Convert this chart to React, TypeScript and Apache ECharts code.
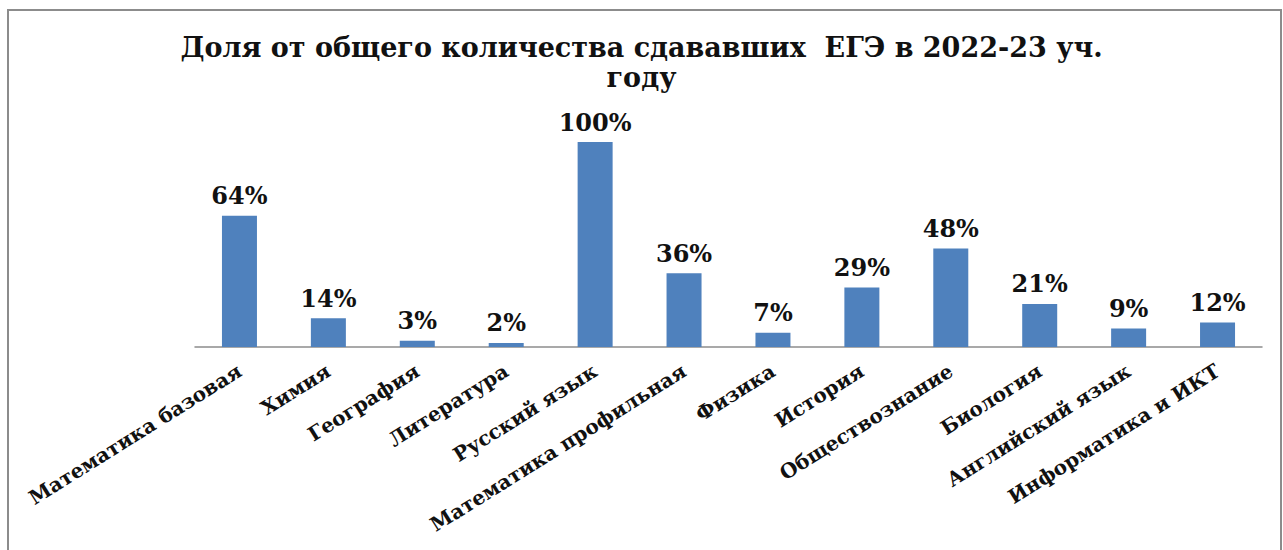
import React, { useEffect, useRef } from "react";
import * as echarts from "echarts";

const categories = [
  "Математика базовая",
  "Химия",
  "География",
  "Литература",
  "Русский язык",
  "Математика профильная",
  "Физика",
  "История",
  "Обществознание",
  "Биология",
  "Английский язык",
  "Информатика и ИКТ",
];
const shares = [64, 14, 3, 2, 100, 36, 7, 29, 48, 21, 9, 12];
const titleText = "Доля от общего количества сдававших  ЕГЭ в 2022-23 уч.\nгоду";

export default function App() {
  const ref = useRef<HTMLDivElement>(null);
  useEffect(() => {
    if (!ref.current) return;
    const chart = echarts.init(ref.current, null, { renderer: "svg" });
    const font = "'DejaVu Serif', 'Liberation Serif', serif";
    chart.setOption({
      animation: false,
      backgroundColor: "#ffffff",
      title: {
        text: titleText,
        left: "center",
        top: 27,
        textStyle: {
          fontFamily: font,
          fontWeight: "bold",
          fontSize: 27,
          lineHeight: 30,
          color: "#111111",
        },
      },
      graphic: [
        {
          type: "rect",
          shape: { x: 8, y: 10, width: 1273, height: 570 },
          style: { fill: "none", stroke: "#8c8c8c", lineWidth: 2 },
          silent: true,
        },
      ],
      grid: { left: 195, right: 21, top: 142, bottom: 203 },
      xAxis: {
        type: "category",
        data: categories,
        axisLine: { show: true, lineStyle: { color: "#8c8c8c", width: 1.5 } },
        axisTick: { show: false },
        axisLabel: {
          interval: 0,
          rotate: 32,
          margin: 22,
          fontFamily: font,
          fontWeight: "bold",
          fontSize: 20,
          color: "#111111",
        },
      },
      yAxis: {
        type: "value",
        min: 0,
        max: 100,
        show: false,
        splitLine: { show: false },
      },
      series: [
        {
          type: "bar",
          data: shares,
          barWidth: 35,
          itemStyle: { color: "#4f81bd" },
          label: {
            show: true,
            position: "top",
            distance: 8,
            formatter: "{c}%",
            fontFamily: font,
            fontWeight: "bold",
            fontSize: 24,
            color: "#111111",
          },
        },
      ],
    });
    return () => chart.dispose();
  }, []);
  return (
    <div
      ref={ref}
      style={{ position: "fixed", left: 0, top: 0, width: 1283, height: 550 }}
    />
  );
}
